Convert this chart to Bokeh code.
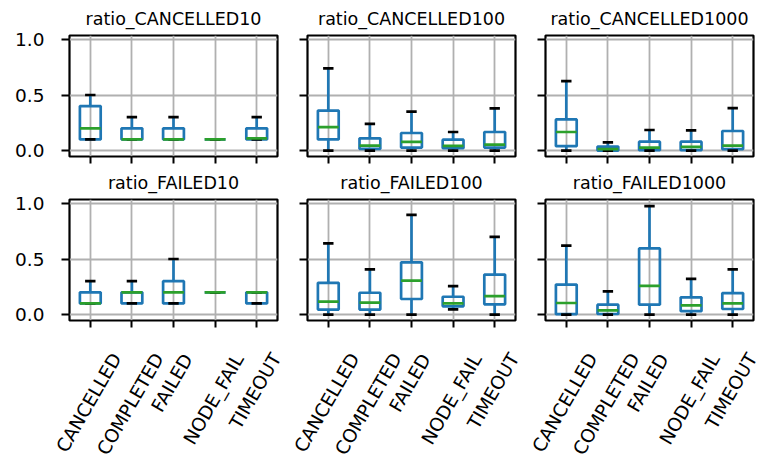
import numpy as np
from bokeh.plotting import figure
from bokeh.layouts import column, row
from bokeh.models import ColumnDataSource, FixedTicker, NumeralTickFormatter, Range1d
from bokeh.core.properties import value
from bokeh.embed import file_html
from bokeh.resources import INLINE

categories = ["CANCELLED", "COMPLETED", "FAILED", "NODE_FAIL", "TIMEOUT"]
titles = ["ratio_CANCELLED10", "ratio_CANCELLED100", "ratio_CANCELLED1000",
          "ratio_FAILED10", "ratio_FAILED100", "ratio_FAILED1000"]
y_ticks = [0.0, 0.5, 1.0]

# box statistics per panel: lower whisker, Q1, median, Q3, upper whisker
c10_lo = [0.10, 0.10, 0.10, 0.10, 0.10]
c10_q1 = [0.10, 0.10, 0.10, 0.10, 0.10]
c10_med = [0.20, 0.10, 0.10, 0.10, 0.11]
c10_q3 = [0.40, 0.20, 0.20, 0.10, 0.20]
c10_hi = [0.50, 0.30, 0.30, 0.10, 0.30]

c100_lo = [0.0, 0.0, 0.0, 0.0, 0.0]
c100_q1 = [0.10, 0.015, 0.027, 0.021, 0.027]
c100_med = [0.21, 0.045, 0.078, 0.042, 0.054]
c100_q3 = [0.36, 0.11, 0.158, 0.098, 0.167]
c100_hi = [0.74, 0.24, 0.35, 0.167, 0.38]

c1000_lo = [0.0, 0.0, 0.0, 0.0, 0.0]
c1000_q1 = [0.039, 0.0, 0.003, 0.003, 0.012]
c1000_med = [0.167, 0.012, 0.027, 0.033, 0.045]
c1000_q3 = [0.28, 0.036, 0.08, 0.08, 0.176]
c1000_hi = [0.625, 0.074, 0.185, 0.182, 0.381]

f10_lo = [0.1, 0.1, 0.1, 0.2, 0.1]
f10_q1 = [0.1, 0.1, 0.1, 0.2, 0.1]
f10_med = [0.1, 0.2, 0.2, 0.2, 0.2]
f10_q3 = [0.2, 0.2, 0.3, 0.2, 0.2]
f10_hi = [0.3, 0.3, 0.5, 0.2, 0.2]

f100_lo = [0.0, 0.0, 0.0, 0.047, 0.0]
f100_q1 = [0.045, 0.045, 0.14, 0.074, 0.092]
f100_med = [0.116, 0.107, 0.306, 0.10, 0.166]
f100_q3 = [0.286, 0.196, 0.47, 0.16, 0.36]
f100_hi = [0.64, 0.407, 0.898, 0.256, 0.699]

f1000_lo = [0.0, 0.0, 0.0, 0.0, 0.0]
f1000_q1 = [0.003, 0.005, 0.089, 0.03, 0.05]
f1000_med = [0.104, 0.038, 0.259, 0.083, 0.10]
f1000_q3 = [0.27, 0.089, 0.595, 0.155, 0.193]
f1000_hi = [0.621, 0.208, 0.976, 0.321, 0.407]

panels = [
    (c10_lo, c10_q1, c10_med, c10_q3, c10_hi),
    (c100_lo, c100_q1, c100_med, c100_q3, c100_hi),
    (c1000_lo, c1000_q1, c1000_med, c1000_q3, c1000_hi),
    (f10_lo, f10_q1, f10_med, f10_q3, f10_hi),
    (f100_lo, f100_q1, f100_med, f100_q3, f100_hi),
    (f1000_lo, f1000_q1, f1000_med, f1000_q3, f1000_hi),
]

BLUE = "#1f77b4"
GREEN = "#2ca02c"
GRID = "#b0b0b0"
FONT = "DejaVu Sans"
TICK_FS = 18.5
Y0, Y1 = -0.0536, 1.0357

LEFT = [69, 20, 20]
RIGHT = [10, 10, 4]
TOP = [34, 34]
BOTTOM = [8, 8]
FW, FH = 208, 122
STRIP_H = 463 - (TOP[0] + FH + BOTTOM[0] + TOP[1] + FH + BOTTOM[1])
LABEL_TOP = 32  # px from row-2 frame bottom to top of rotated labels

# DejaVu Sans advance widths (em) for rotated label centring
ADV = {"C": .698, "A": .684, "N": .748, "E": .632, "L": .557, "D": .770, "O": .787,
       "M": .863, "P": .603, "T": .611, "F": .575, "I": .295, "_": .5, "U": .732}

xs = np.arange(1, len(categories) + 1)
LW = 2.7


def make_panel(idx):
    r, c = divmod(idx, 3)
    lo, q1, med, q3, hi = panels[idx]
    p = figure(width=LEFT[c] + FW + RIGHT[c], height=TOP[r] + FH + BOTTOM[r],
               x_range=Range1d(0.5, len(categories) + 0.5), y_range=Range1d(Y0, Y1),
               output_backend="svg", toolbar_location=None,
               min_border_left=LEFT[c], min_border_right=RIGHT[c],
               min_border_top=TOP[r], min_border_bottom=BOTTOM[r])
    p.title.text = titles[idx]
    p.title.align = "center"
    p.title.text_font = FONT
    p.title.text_font_size = "17.5px"
    p.title.text_font_style = "normal"
    p.title.text_color = "black"
    p.title.standoff = 13

    p.outline_line_color = "black"
    p.outline_line_width = 2.2
    p.outline_line_alpha = 1

    for ax in (p.xaxis[0], p.yaxis[0]):
        ax.axis_line_color = None
        ax.major_tick_in = 0
        ax.major_tick_line_width = 2
        ax.major_tick_line_color = "black"
        ax.minor_tick_line_color = None
        ax.major_label_text_font = FONT
        ax.major_label_text_font_size = f"{TICK_FS}px"
        ax.major_label_text_color = "black"
    p.xaxis.major_tick_out = 7
    p.yaxis.major_tick_out = 8

    p.xaxis.ticker = FixedTicker(ticks=list(xs))
    p.xaxis.major_label_text_color = None
    p.xaxis.major_label_standoff = 0
    p.yaxis.ticker = FixedTicker(ticks=y_ticks)
    p.yaxis.formatter = NumeralTickFormatter(format="0.0")
    if c == 0:
        p.yaxis.major_label_standoff = 17
    else:
        p.yaxis.major_label_text_color = None
        p.yaxis.major_label_standoff = 0

    p.xgrid.ticker = FixedTicker(ticks=list(xs))
    p.ygrid.ticker = FixedTicker(ticks=y_ticks)
    for g in (p.xgrid[0], p.ygrid[0]):
        g.grid_line_color = GRID
        g.grid_line_width = 1.8

    src = ColumnDataSource(dict(x=xs, lo=lo, q1=q1, med=med, q3=q3, hi=hi,
                                xl=xs - 0.25, xr=xs + 0.25,
                                cl=xs - 0.125, cr=xs + 0.125))
    p.vbar(x="x", width=0.5, bottom="q1", top="q3", source=src,
           fill_color=None, line_color=BLUE, line_width=LW)
    p.segment(x0="x", y0="q3", x1="x", y1="hi", source=src, line_color=BLUE, line_width=LW)
    p.segment(x0="x", y0="q1", x1="x", y1="lo", source=src, line_color=BLUE, line_width=LW)
    p.segment(x0="cl", y0="hi", x1="cr", y1="hi", source=src, line_color="black", line_width=LW)
    p.segment(x0="cl", y0="lo", x1="cr", y1="lo", source=src, line_color="black", line_width=LW)
    p.segment(x0="xl", y0="med", x1="xr", y1="med", source=src, line_color=GREEN, line_width=LW)
    return p


def make_strip(c):
    # label strip under a bottom-row panel, x data units aligned with the panel above
    upp = len(categories) / FW
    w = LEFT[c] + FW + RIGHT[c]
    p = figure(width=w, height=STRIP_H,
               x_range=Range1d(0.5 - LEFT[c] * upp, len(categories) + 0.5 + RIGHT[c] * upp),
               y_range=Range1d(0, STRIP_H), output_backend="svg", toolbar_location=None,
               x_axis_location=None, y_axis_location=None,
               min_border_left=0, min_border_right=0, min_border_top=0, min_border_bottom=0)
    p.outline_line_color = None
    p.grid.visible = False
    cap = 0.729 * TICK_FS
    s60, c60 = np.sin(np.radians(60)), np.cos(np.radians(60))
    ys = []
    for cat in categories:
        tw = (sum(ADV[ch] for ch in cat) - 0.15) * TICK_FS
        h = tw * s60 + cap * c60
        ys.append(STRIP_H - (LABEL_TOP - BOTTOM[1]) - h / 2.0)
    src = ColumnDataSource(dict(x=xs, y=ys, t=categories))
    p.text(x="x", y="y", text="t", source=src, angle=60, angle_units="deg",
           x_offset=-1.5, text_align="center", text_baseline="middle",
           text_font=value(FONT), text_font_size=value(f"{TICK_FS}px"), text_color="black")
    return p


figs = [make_panel(i) for i in range(6)]
strips = [make_strip(c) for c in range(3)]
layout = column(row(*figs[:3]), row(*figs[3:]), row(*strips))
open("out.html", "w").write(file_html(layout, INLINE))
